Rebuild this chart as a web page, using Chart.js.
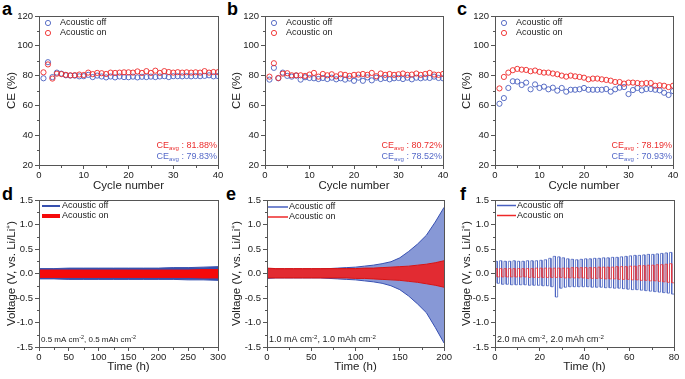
<!DOCTYPE html>
<html>
<head>
<meta charset="utf-8">
<script src="https://cdn.jsdelivr.net/npm/chart.js@4.4.0/dist/chart.umd.min.js"></script>
<style>
  body { margin: 0; background: #fff; width: 685px; height: 379px; position: relative; overflow: hidden; }
  .panel { position: absolute; }
  .letter { position: absolute; font: bold 18px "Liberation Sans", Arial, sans-serif; line-height: 1; color: #000; }
</style>
</head>
<body>
<div class="letter" style="left:2px;top:0px">a</div>
<div class="letter" style="left:227px;top:0px">b</div>
<div class="letter" style="left:457px;top:0px">c</div>
<div class="letter" style="left:2px;top:185px">d</div>
<div class="letter" style="left:226px;top:185px">e</div>
<div class="letter" style="left:460px;top:185px">f</div>

<canvas id="ca" class="panel" width="228" height="195" style="left:0;top:0"></canvas>
<canvas id="cb" class="panel" width="228" height="195" style="left:225px;top:0"></canvas>
<canvas id="cc" class="panel" width="230" height="195" style="left:455px;top:0"></canvas>
<canvas id="cd" class="panel" width="228" height="194" style="left:0;top:185px"></canvas>
<canvas id="ce" class="panel" width="228" height="194" style="left:225px;top:185px"></canvas>
<canvas id="cf" class="panel" width="230" height="194" style="left:455px;top:185px"></canvas>

<script>
// ---- data ----
const seriesNames = ['Acoustic off', 'Acoustic on'];

const cycles = [1,2,3,4,5,6,7,8,9,10,11,12,13,14,15,16,17,18,19,20,
                21,22,23,24,25,26,27,28,29,30,31,32,33,34,35,36,37,38,39,40];

// CE (%) per cycle
const aOff = [78.2,89.0,79.0,82.0,81.3,80.2,80.0,80.0,79.5,79.6,80.5,79.0,80.0,79.4,78.8,79.4,78.8,79.4,79.0,78.9,
              79.3,78.8,79.2,79.0,79.3,79.0,79.4,79.6,79.0,79.6,79.6,79.5,79.7,79.5,79.7,79.6,79.8,80.2,79.5,79.7];
const aOn  = [82.2,87.5,78.0,81.3,81.0,80.5,80.2,80.3,80.7,80.4,82.0,81.0,81.8,81.6,81.1,82.0,81.8,82.0,82.2,82.2,
              82.0,82.8,81.8,83.0,81.8,83.3,81.8,83.0,82.4,82.0,82.3,82.0,82.2,82.0,82.2,82.0,83.0,82.0,82.4,82.3];
const bOff = [77.3,85.2,78.2,82.0,79.8,79.3,80.0,77.3,78.9,78.4,78.2,77.7,78.4,77.7,78.6,77.5,78.2,77.3,78.0,76.5,
              78.6,76.5,78.8,76.8,78.6,77.7,78.4,77.5,78.2,78.4,77.7,78.6,77.5,78.6,78.2,78.6,78.4,79.3,78.4,78.2];
const bOn  = [79.3,88.3,78.4,81.3,81.6,80.2,80.2,80.2,79.8,80.7,81.8,79.3,81.1,80.2,80.9,79.5,80.9,80.5,79.8,80.5,
              80.7,81.1,80.5,81.8,79.6,81.4,80.5,81.1,80.5,80.9,81.4,80.5,80.7,81.4,80.5,81.1,81.8,80.7,80.5,81.1];
const cOff = [61.1,64.9,71.7,76.2,76.0,73.7,75.3,70.8,74.1,71.7,72.6,70.8,71.9,69.9,71.7,69.2,70.5,70.5,70.8,71.7,
              70.5,70.5,70.5,70.5,71.0,69.2,70.8,71.9,72.3,67.6,70.3,71.7,70.1,71.0,71.0,70.5,70.1,68.5,67.0,69.6];
const cOn  = [71.4,79.1,82.0,83.6,84.5,84.0,83.8,82.9,83.4,82.5,82.0,82.0,81.4,80.9,80.0,79.3,80.0,79.5,79.1,78.6,
              77.5,78.0,78.0,77.5,77.1,76.6,75.7,75.7,74.6,75.3,75.3,75.0,74.6,75.0,75.0,73.2,73.5,73.2,72.3,73.2];
const ceAvg = { a: ['81.88%', '79.83%'], b: ['80.72%', '78.52%'], c: ['78.19%', '70.93%'] };

// d: 0.5 mA cm-2 voltage band edges (V)
const dTime   = [0,25,50,75,100,125,150,175,200,225,250,275,300];
const dOffUp  = [0.10,0.10,0.11,0.11,0.11,0.11,0.11,0.11,0.11,0.12,0.12,0.13,0.14];
const dOffLow = [-0.11,-0.11,-0.12,-0.12,-0.12,-0.12,-0.12,-0.12,-0.12,-0.12,-0.13,-0.13,-0.14];
const dOnUp   = [0.07,0.07,0.07,0.07,0.07,0.07,0.07,0.07,0.07,0.07,0.07,0.08,0.08];
const dOnLow  = [-0.08,-0.08,-0.08,-0.08,-0.08,-0.08,-0.08,-0.08,-0.08,-0.08,-0.08,-0.09,-0.09];

// e: 1.0 mA cm-2 voltage band edges (V)
const eTime   = [0,10,20,30,40,50,60,70,80,90,100,110,120,130,140,150,160,170,180,190,200];
const eOffUp  = [0.10,0.09,0.09,0.09,0.09,0.09,0.09,0.10,0.11,0.12,0.13,0.15,0.17,0.20,0.24,0.32,0.45,0.60,0.78,1.05,1.35];
const eOffLow = [-0.10,-0.09,-0.09,-0.09,-0.09,-0.09,-0.09,-0.10,-0.11,-0.12,-0.13,-0.15,-0.17,-0.20,-0.25,-0.33,-0.46,-0.62,-0.80,-1.10,-1.42];
const eOnUp   = [0.11,0.10,0.10,0.10,0.10,0.10,0.10,0.10,0.10,0.10,0.10,0.11,0.11,0.12,0.13,0.14,0.15,0.17,0.19,0.22,0.26];
const eOnLow  = [-0.09,-0.09,-0.09,-0.09,-0.09,-0.09,-0.09,-0.09,-0.09,-0.09,-0.10,-0.10,-0.11,-0.12,-0.13,-0.14,-0.16,-0.18,-0.21,-0.24,-0.28];

// f: 2.0 mA cm-2, one value per 2 h cycle (stripping plateau, plating plateau)
const fStart  = [0,2,4,6,8,10,12,14,16,18,20,22,24,26,28,30,32,34,36,38,
                 40,42,44,46,48,50,52,54,56,58,60,62,64,66,68,70,72,74,76,78];
const fOffUp  = [0.25,0.26,0.25,0.25,0.26,0.25,0.25,0.26,0.26,0.26,0.27,0.28,0.31,0.35,0.34,0.32,0.30,0.29,0.28,0.29,
                 0.30,0.30,0.31,0.31,0.32,0.32,0.33,0.33,0.34,0.35,0.36,0.37,0.37,0.38,0.39,0.39,0.40,0.41,0.42,0.43];
const fOffLow = [-0.20,-0.22,-0.22,-0.23,-0.23,-0.23,-0.23,-0.24,-0.24,-0.24,-0.25,-0.25,-0.27,-0.48,-0.30,-0.28,-0.27,-0.27,-0.27,-0.27,
                 -0.27,-0.28,-0.28,-0.28,-0.29,-0.29,-0.30,-0.30,-0.31,-0.32,-0.33,-0.33,-0.34,-0.35,-0.36,-0.37,-0.38,-0.39,-0.40,-0.42];
const fOnUp   = [0.10,0.10,0.10,0.10,0.10,0.10,0.10,0.10,0.10,0.11,0.11,0.11,0.11,0.11,0.11,0.11,0.11,0.12,0.12,0.12,
                 0.12,0.12,0.12,0.13,0.13,0.13,0.13,0.14,0.14,0.14,0.15,0.15,0.16,0.16,0.17,0.17,0.18,0.18,0.19,0.20];
const fOnLow  = [-0.07,-0.07,-0.07,-0.07,-0.07,-0.07,-0.07,-0.08,-0.08,-0.08,-0.08,-0.08,-0.08,-0.08,-0.08,-0.09,-0.09,-0.09,-0.09,-0.09,
                 -0.10,-0.10,-0.10,-0.10,-0.11,-0.11,-0.11,-0.12,-0.12,-0.12,-0.13,-0.13,-0.14,-0.14,-0.15,-0.15,-0.16,-0.17,-0.18,-0.19];

// ---- styling ----
const FONT = '"Liberation Sans", Arial, sans-serif';
const AXIS = '#555';
const BLUE = 'rgb(72,96,192)';
const RED = 'rgb(238,40,40)';
Chart.defaults.font.family = FONT;
Chart.defaults.color = '#222';
Chart.defaults.animation = false;

const toXY = (xs, ys) => xs.map((x, i) => ({ x, y: ys[i] }));

function squareWave(starts, up, low) {
    const pts = [];
    starts.forEach((t, i) => {
        pts.push({ x: t, y: up[i] }, { x: t + 1, y: up[i] }, { x: t + 1, y: low[i] }, { x: t + 2, y: low[i] });
    });
    return pts;
}

// draws text pieces with sub/superscripts; parts = [[text, shift]], shift 1 = sup, -1 = sub
function drawRich(ctx, parts, x, y, size, align) {
    const fontFor = s => (s ? size * 0.68 : size) + 'px ' + FONT;
    let total = 0;
    parts.forEach(([t, s]) => { ctx.font = fontFor(s); total += ctx.measureText(t).width; });
    let cx = align === 'right' ? x - total : x;
    ctx.textAlign = 'left';
    ctx.textBaseline = 'middle';
    parts.forEach(([t, s]) => {
        ctx.font = fontFor(s);
        const dy = s === 1 ? -size * 0.35 : s === -1 ? size * 0.3 : 0;
        ctx.fillText(t, cx, y + dy);
        cx += ctx.measureText(t).width;
    });
}

const frame = {
    id: 'frame',
    afterDraw(chart) {
        const { ctx, chartArea: ca } = chart;
        ctx.save();
        ctx.strokeStyle = AXIS;
        ctx.lineWidth = 1;
        const l = Math.round(ca.left - 0.5) + 0.5, r = Math.round(ca.right - 0.5) + 0.5;
        const t = Math.round(ca.top - 0.5) + 0.5, b = Math.round(ca.bottom - 0.5) + 0.5;
        ctx.strokeRect(l, t, r - l, b - t);
        // minor ticks halfway between the major ones
        ['x', 'y'].forEach(id => {
            const s = chart.scales[id];
            for (let i = 0; i < s.ticks.length - 1; i++) {
                const p = Math.round(s.getPixelForValue((s.ticks[i].value + s.ticks[i + 1].value) / 2)) + 0.5;
                ctx.beginPath();
                if (id === 'x') { ctx.moveTo(p, b); ctx.lineTo(p, b + 2.5); }
                else { ctx.moveTo(l, p); ctx.lineTo(l - 2.5, p); }
                ctx.stroke();
            }
        });
        ctx.restore();
    }
};

function legend(cfg) {
    return {
        id: 'legend' + Math.random(),
        afterDraw(chart) {
            const { ctx, chartArea: ca } = chart;
            ctx.save();
            ctx.font = cfg.size + 'px ' + FONT;
            ctx.textBaseline = 'middle';
            cfg.items.forEach((it, i) => {
                const y = ca.top + cfg.y + i * cfg.step;
                ctx.strokeStyle = it.color;
                ctx.beginPath();
                if (cfg.kind === 'point') {
                    ctx.lineWidth = 0.9;
                    ctx.arc(ca.left + cfg.x, y, 2.6, 0, Math.PI * 2);
                } else {
                    ctx.lineWidth = it.width;
                    ctx.moveTo(ca.left + cfg.x, y);
                    ctx.lineTo(ca.left + cfg.x2, y);
                }
                ctx.stroke();
                ctx.fillStyle = '#222';
                ctx.fillText(it.text, ca.left + cfg.tx, y);
            });
            ctx.restore();
        }
    };
}

function notes(list) {
    return {
        id: 'notes' + Math.random(),
        afterDraw(chart) {
            const { ctx, chartArea: ca } = chart;
            ctx.save();
            list.forEach(n => {
                ctx.fillStyle = n.color;
                const x = n.align === 'right' ? ca.right - n.dx : ca.left + n.dx;
                drawRich(ctx, n.parts, x, ca.bottom - n.dy, n.size, n.align);
            });
            ctx.restore();
        }
    };
}

function scales(o) {
    return {
        x: {
            type: 'linear', min: o.xmin, max: o.xmax,
            ticks: { stepSize: o.xstep, font: { size: 9.5 }, padding: 1, color: '#222' },
            grid: { drawOnChartArea: false, drawTicks: true, tickLength: 4, color: AXIS },
            border: { color: AXIS },
            title: { display: true, text: o.xtitle, font: { size: 11.5 }, padding: { top: 0, bottom: o.xtpad } },
            afterFit: s => { s.height = o.xh; }
        },
        y: {
            min: o.ymin, max: o.ymax,
            ticks: { stepSize: o.ystep, font: { size: 9.5 }, padding: 2, color: '#222', callback: o.yfmt },
            grid: { drawOnChartArea: false, drawTicks: true, tickLength: 4, color: AXIS },
            border: { color: AXIS },
            title: { display: true, text: o.ytitle, font: { size: 11.5 }, padding: { top: 5, bottom: 0 } },
            afterFit: s => { s.width = o.yw; }
        }
    };
}

// ---- CE panels ----
function cePanel(id, off, on, avg, yw, padRight) {
    new Chart(document.getElementById(id), {
        type: 'scatter',
        data: {
            datasets: [
                { label: seriesNames[1], data: toXY(cycles, on), borderColor: RED, order: 0 },
                { label: seriesNames[0], data: toXY(cycles, off), borderColor: BLUE, order: 1 }
            ].map(d => Object.assign(d, { backgroundColor: 'rgba(0,0,0,0)', pointRadius: 2.6, borderWidth: 0.9, pointHoverRadius: 2.6 }))
        },
        options: {
            responsive: false,
            devicePixelRatio: 1,
            layout: { padding: { top: 16, right: padRight, left: 0, bottom: 0 } },
            plugins: { legend: { display: false }, tooltip: { enabled: false } },
            scales: scales({ xmin: 0, xmax: 40, xstep: 10, xtitle: 'Cycle number', xh: 30, xtpad: 2,
                             ymin: 20, ymax: 120, ystep: 20, ytitle: 'CE (%)', yw: yw })
        },
        plugins: [frame,
            legend({ kind: 'point', x: 9, tx: 21, y: 7, step: 10, size: 9,
                     items: [{ text: seriesNames[0], color: BLUE }, { text: seriesNames[1], color: RED }] }),
            notes([
                { parts: [['CE', 0], ['avg', -1], [' : ' + avg[0], 0]], color: 'rgb(235,45,45)', align: 'right', dx: 1, dy: 19, size: 9 },
                { parts: [['CE', 0], ['avg', -1], [' : ' + avg[1], 0]], color: 'rgb(85,105,200)', align: 'right', dx: 1, dy: 8, size: 9 }
            ])]
    });
}

cePanel('ca', aOff, aOn, ceAvg.a, 39, 10);
cePanel('cb', bOff, bOn, ceAvg.b, 40, 10);
cePanel('cc', cOff, cOn, ceAvg.c, 40, 12);

// ---- voltage panels ----
function voltPanel(id, datasets, o) {
    new Chart(document.getElementById(id), {
        type: 'line',
        data: { datasets: datasets },
        options: {
            responsive: false,
            devicePixelRatio: 1,
            layout: { padding: { top: 15, right: o.padRight, left: 0, bottom: 0 } },
            elements: { point: { radius: 0 }, line: { tension: 0 } },
            plugins: { legend: { display: false }, tooltip: { enabled: false } },
            scales: scales({ xmin: 0, xmax: o.xmax, xstep: o.xstep, xtitle: 'Time (h)', xh: 32, xtpad: 5,
                             ymin: -1.5, ymax: 1.5, ystep: 0.5, ytitle: 'Voltage (V, vs. Li/Li\u207A)', yw: o.yw,
                             yfmt: v => v.toFixed(1) })
        },
        plugins: [frame,
            legend({ kind: 'line', x: o.lx, x2: o.lx2, tx: o.ltx, y: o.ly, step: 10, size: 9, items: o.legend }),
            notes([{ parts: o.note, color: '#222', align: 'left', dx: 2, dy: 7, size: o.noteSize }])]
    });
}

function band(xs, up, low, line, fillColor, width) {
    return [
        { data: toXY(xs, up), borderColor: line, borderWidth: width, fill: false },
        { data: toXY(xs, low), borderColor: line, borderWidth: width, backgroundColor: fillColor, fill: '-1' }
    ];
}

voltPanel('cd',
    band(dTime, dOnUp, dOnLow, 'rgb(245,10,10)', 'rgb(245,10,10)', 1)
        .concat(band(dTime, dOffUp, dOffLow, 'rgb(55,80,175)', 'rgb(55,80,175)', 1)),
    { xmax: 300, xstep: 50, yw: 39, padRight: 10, lx: 3, lx2: 21, ltx: 23, ly: 6,
      legend: [{ text: seriesNames[0], color: 'rgb(55,80,175)', width: 2 }, { text: seriesNames[1], color: 'rgb(245,10,10)', width: 4 }],
      note: [['0.5 mA cm', 0], ['-2', 1], [', 0.5 mAh cm', 0], ['-2', 1]], noteSize: 8 });

voltPanel('ce',
    band(eTime, eOnUp, eOnLow, 'rgb(215,20,20)', 'rgba(236,32,32,0.9)', 1)
        .concat(band(eTime, eOffUp, eOffLow, 'rgb(55,80,178)', 'rgba(95,118,200,0.75)', 1)),
    { xmax: 200, xstep: 50, yw: 42, padRight: 7, lx: 1, lx2: 21, ltx: 22, ly: 7,
      legend: [{ text: seriesNames[0], color: BLUE, width: 1.5 }, { text: seriesNames[1], color: RED, width: 1.5 }],
      note: [['1.0 mA cm', 0], ['-2', 1], [', 1.0 mAh cm', 0], ['-2', 1]], noteSize: 9 });

voltPanel('cf', [
        { data: squareWave(fStart, fOnUp, fOnLow), borderColor: 'rgba(240,50,50,0.7)', borderWidth: 1, fill: false },
        { data: squareWave(fStart, fOffUp, fOffLow), borderColor: 'rgba(70,95,190,0.75)', borderWidth: 1, fill: false }
    ],
    { xmax: 80, xstep: 20, yw: 40, padRight: 11, lx: 2, lx2: 21, ltx: 22, ly: 5.5,
      legend: [{ text: seriesNames[0], color: BLUE, width: 1.5 }, { text: seriesNames[1], color: RED, width: 1.5 }],
      note: [['2.0 mA cm', 0], ['-2', 1], [', 2.0 mAh cm', 0], ['-2', 1]], noteSize: 9 });
</script>
</body>
</html>
